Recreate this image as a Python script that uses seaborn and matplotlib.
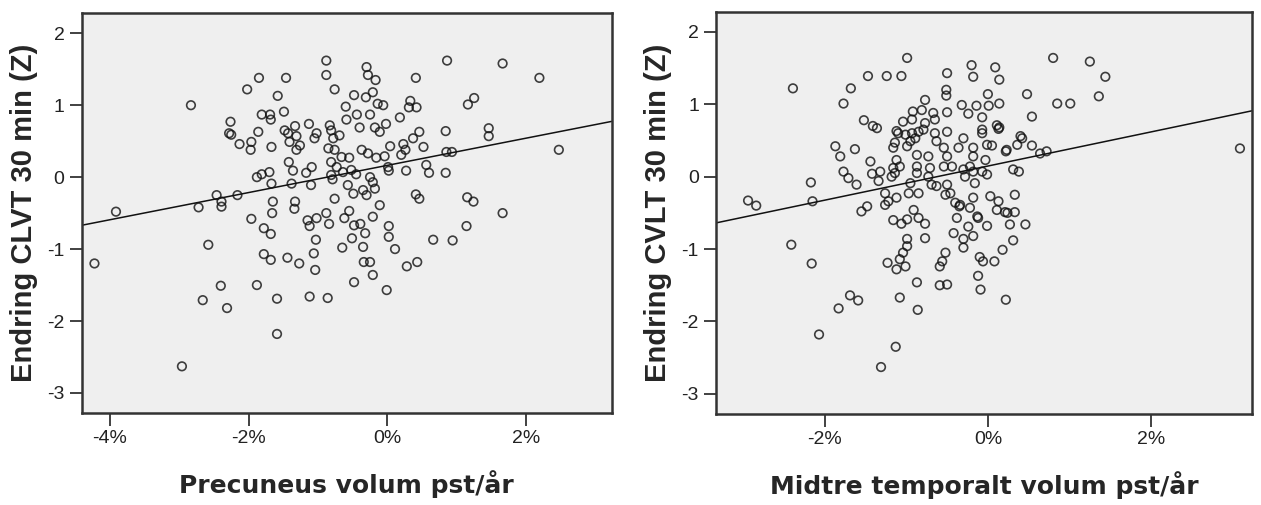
import numpy as np
import matplotlib
matplotlib.use("Agg")
import matplotlib.pyplot as plt
import seaborn as sns
from matplotlib.ticker import PercentFormatter

# values (x = volume change in %/year, y = z-score change)
precuneus_x = [
    -0.88, -0.88, -1.85, -1.46, -2.02, -1.58, -0.76, -0.30, -0.28, -0.17,
    0.41, -0.21, -0.48, -0.31, -0.60, -0.14, -0.06, 0.33, 0.31, 0.42,
    0.18, -0.44, -0.25, -0.59, -0.40, -0.02, -0.18, -0.11, -1.49, -1.81,
    -1.69, -1.68, -2.26, -2.28, -2.25, -2.13, -1.96, -1.97, -1.86, -1.67,
    -1.48, -1.33, -1.43, -1.31, -1.13, -1.02, -1.05, -1.41, -1.26, -1.31,
    -0.83, -0.81, -0.69, -0.78, -0.85, -0.76, -0.66, -0.55, -0.37, -0.28,
    -0.16, -0.04, 0.04, 0.23, 0.26, 0.37, 0.46, 0.52, 0.20, 0.27,
    0.01, 0.02, 0.56, 0.60, -1.42, -1.36, -1.09, -1.17, -0.81, -0.73,
    -0.81, -0.64, -0.52, -0.45, -0.25, -0.21, -0.57, -0.35, -0.18, -0.30,
    -0.49, -1.88, -1.81, -1.70, -1.67, -1.38, -1.10, -0.79, -2.46, -2.39,
    -2.39, -2.16, -1.65, -1.66, -1.33, -1.34, -0.76, 0.41, 0.46, -0.11,
    -0.55, -0.88, -1.96, -0.21, -2.72, -3.91, -2.83, -1.78, -1.68, -2.58,
    -1.78, -1.68, -1.44, -1.27, -2.40, -1.88, -2.66, -2.31, -1.59, -1.59,
    -1.12, -0.86, -1.15, -1.02, -1.12, -0.84, -1.03, -1.06, -1.04, -0.62,
    -0.48, -0.39, -0.32, -0.51, -0.65, -0.35, -0.34, -0.25, -0.21, -0.48,
    0.02, 0.02, 0.11, -0.01, 0.28, 0.43, 0.66, 0.94, 1.14, -4.22,
    -2.96, 0.86, 1.66, 2.19, 1.25, 1.16, 0.84, 1.46, 1.46, 2.47,
    0.85, 0.93, 0.84, 1.15, 1.24, 1.66,
]
precuneus_y = [
    1.62, 1.42, 1.38, 1.38, 1.22, 1.13, 1.22, 1.53, 1.42, 1.35,
    1.38, 1.18, 1.14, 1.11, 0.98, 1.02, 1.00, 1.06, 0.97, 0.97,
    0.83, 0.87, 0.87, 0.80, 0.69, 0.74, 0.69, 0.63, 0.91, 0.87,
    0.87, 0.80, 0.77, 0.61, 0.59, 0.46, 0.49, 0.38, 0.63, 0.42,
    0.65, 0.71, 0.61, 0.57, 0.74, 0.61, 0.54, 0.49, 0.44, 0.38,
    0.72, 0.65, 0.58, 0.54, 0.40, 0.38, 0.28, 0.27, 0.38, 0.33,
    0.27, 0.29, 0.43, 0.46, 0.38, 0.54, 0.63, 0.42, 0.31, 0.09,
    0.14, 0.09, 0.17, 0.06, 0.21, 0.09, 0.14, 0.06, 0.21, 0.14,
    0.03, 0.07, 0.10, 0.04, 0.00, -0.07, -0.11, -0.18, -0.16, -0.25,
    -0.23, 0.00, 0.04, 0.07, -0.09, -0.09, -0.11, -0.03, -0.25, -0.34,
    -0.41, -0.25, -0.34, -0.50, -0.34, -0.44, -0.30, -0.24, -0.30, -0.39,
    -0.47, -0.50, -0.58, -0.55, -0.42, -0.48, 1.00, -0.71, -0.79, -0.94,
    -1.07, -1.15, -1.12, -1.20, -1.51, -1.50, -1.71, -1.82, -1.69, -2.18,
    -1.66, -1.68, -0.60, -0.57, -0.68, -0.65, -0.87, -1.06, -1.29, -0.57,
    -0.67, -0.65, -0.78, -0.85, -0.98, -0.97, -1.18, -1.18, -1.36, -1.46,
    -0.68, -0.83, -1.00, -1.57, -1.24, -1.18, -0.87, -0.88, -0.68, -1.20,
    -2.63, 1.62, 1.58, 1.38, 1.10, 1.01, 0.64, 0.68, 0.57, 0.38,
    0.35, 0.35, 0.06, -0.28, -0.34, -0.50,
]

temporal_x = [
    -0.99, -1.47, -1.24, -1.06, -1.68, -1.77, -2.39, -0.50, -0.51, -0.51,
    -0.20, -0.18, 0.09, 0.14, 0.48, 0.54, 0.00, 0.14, -0.32, -0.14,
    0.01, -0.24, -0.07, -0.77, -0.92, -0.81, -0.67, -0.50, -1.52, -1.41,
    -1.36, -1.04, -0.93, -0.77, -0.65, -1.10, -1.01, -0.93, -0.85, -0.89,
    -0.79, -1.12, -1.14, -0.65, -0.50, -0.63, -0.54, -0.30, -0.36, -0.18,
    -0.07, 0.11, 0.14, 0.13, -0.01, 0.05, 0.23, 0.36, 0.42, 0.54,
    -0.07, 0.40, 0.22, 0.64, 0.72, -1.87, -1.81, -1.63, -1.44, -1.42,
    -1.32, -1.34, -1.77, -1.71, -1.61, -2.17, -2.15, -1.16, -1.12, -1.16,
    -1.08, -1.14, -1.18, -0.87, -0.73, -0.87, -0.71, -0.87, -0.73, -0.99,
    -0.95, -0.54, -0.44, -0.50, -0.18, -0.03, -0.22, -0.30, -0.28, -0.18,
    -0.07, -0.01, 0.31, 0.38, -0.95, -0.97, -0.85, -0.69, -0.63, -0.50,
    -0.52, -0.16, -0.18, -0.34, -0.22, 0.03, 0.13, 0.33, 0.11, 0.21,
    0.33, -1.26, -1.22, -1.26, -1.12, -1.55, -1.48, -1.16, -1.06, -0.99,
    -0.91, -0.85, -0.77, -0.38, -2.94, -2.84, 0.80, 1.25, 1.44, 1.36,
    0.85, 1.01, 3.09, -0.35, -0.12, 0.24, 0.27, 0.46, -0.01, -0.99,
    -0.99, -1.04, -1.08, -1.01, -1.12, -1.23, -0.77, -0.87, -1.08, -0.86,
    -1.69, -1.59, -1.83, -2.07, -1.13, -1.31, -2.16, -0.52, -0.56, -0.59,
    -0.59, -0.50, -0.42, -0.30, -0.30, -0.24, -0.18, -0.13, 0.31, 0.18,
    -0.10, -0.06, 0.08, -0.12, -0.09, 0.22, -2.41, -0.46, -0.40,
]
temporal_y = [
    1.64, 1.39, 1.39, 1.39, 1.22, 1.01, 1.22, 1.43, 1.20, 1.12,
    1.54, 1.38, 1.51, 1.34, 1.14, 0.83, 1.14, 1.01, 0.99, 0.98,
    0.98, 0.87, 0.82, 1.06, 0.90, 0.92, 0.88, 0.89, 0.78, 0.70,
    0.67, 0.76, 0.79, 0.74, 0.79, 0.60, 0.58, 0.60, 0.62, 0.53,
    0.65, 0.63, 0.47, 0.60, 0.62, 0.49, 0.40, 0.53, 0.40, 0.40,
    0.65, 0.71, 0.68, 0.66, 0.44, 0.43, 0.37, 0.44, 0.53, 0.43,
    0.60, 0.56, 0.35, 0.32, 0.35, 0.42, 0.28, 0.38, 0.21, 0.04,
    0.07, -0.06, 0.07, -0.02, -0.11, -0.08, -0.34, 0.40, 0.23, 0.12,
    0.14, 0.05, 0.00, 0.30, 0.28, 0.14, 0.12, 0.05, 0.00, 0.42,
    0.49, 0.14, 0.14, 0.28, 0.28, 0.23, 0.14, 0.10, 0.00, 0.07,
    0.07, 0.03, 0.10, 0.07, -0.09, -0.23, -0.23, -0.11, -0.13, -0.11,
    -0.25, -0.09, -0.29, -0.39, -0.43, -0.27, -0.34, -0.25, -0.46, -0.49,
    -0.49, -0.23, -0.34, -0.39, -0.29, -0.48, -0.41, -0.60, -0.65, -0.59,
    -0.46, -0.57, -0.65, -0.57, -0.33, -0.40, 1.64, 1.59, 1.38, 1.11,
    1.01, 1.01, 0.39, -0.41, -0.57, -0.50, -0.66, -0.66, -0.68, -0.86,
    -0.96, -1.05, -1.14, -1.24, -1.28, -1.19, -0.85, -1.46, -1.67, -1.84,
    -1.64, -1.71, -1.82, -2.18, -2.35, -2.63, -1.20, -1.05, -1.17, -1.24,
    -1.50, -1.49, -0.78, -0.86, -0.98, -0.69, -0.82, -0.55, -0.88, -1.01,
    -1.11, -1.17, -1.17, -1.37, -1.56, -1.70, -0.94, -0.23, -0.36,
]

x_labels = ["Precuneus volum pst/år", "Midtre temporalt volum pst/år"]
y_labels = ["Endring CLVT 30 min (Z)", "Endring CVLT 30 min (Z)"]
x_limits = [(-4.40, 3.23), (-3.33, 3.24)]
x_ticks = [[-4, -2, 0, 2], [-2, 0, 2]]
y_ticks = [-3, -2, -1, 0, 1, 2]

sns.set_style("white")
plt.rcParams["font.family"] = ["Liberation Sans", "DejaVu Sans"]
plt.rcParams["axes.unicode_minus"] = False

fig = plt.figure(figsize=(12.61, 5.05), dpi=100)
ax1 = fig.add_axes([0.065, 0.182, 0.420, 0.792])
ax2 = fig.add_axes([0.568, 0.180, 0.425, 0.797])

panels = [(ax1, precuneus_x, precuneus_y), (ax2, temporal_x, temporal_y)]
for i, (ax, xs, ys) in enumerate(panels):
    ax.set_facecolor("#efefef")
    ax.set_xlim(*x_limits[i])
    ax.set_ylim(-3.28, 2.28)
    sns.regplot(x=np.array(xs), y=np.array(ys), ax=ax, ci=None, truncate=False,
                scatter_kws=dict(s=38, facecolors="none", edgecolors="#111111",
                                 linewidths=1.2),
                line_kws=dict(color="#111111", lw=1.1))
    ax.set_xlim(*x_limits[i])
    ax.set_ylim(-3.28, 2.28)
    ax.set_xticks(x_ticks[i])
    ax.set_yticks(y_ticks)
    ax.xaxis.set_major_formatter(PercentFormatter(xmax=100, decimals=0))
    ax.tick_params(direction="out", length=9, width=1.3, color="#333333",
                   labelsize=14, labelcolor="#222222", bottom=True, left=True)
    for sp in ax.spines.values():
        sp.set_color("#333333")
        sp.set_linewidth(1.8)
    ax.set_xlabel(x_labels[i], fontsize=18, fontweight="bold",
                  family="DejaVu Sans", labelpad=16)
    ax.set_ylabel(y_labels[i], fontsize=21, fontweight="bold", labelpad=7)

fig.savefig("out.png", dpi=100, facecolor="white")
